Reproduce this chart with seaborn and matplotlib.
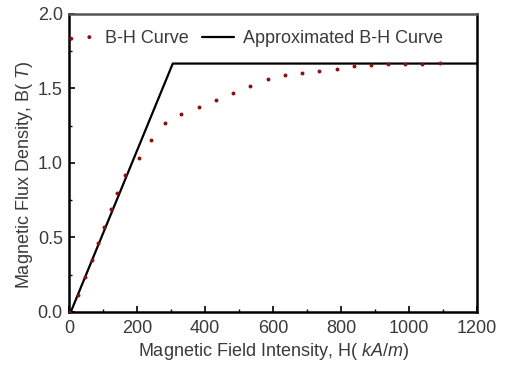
import matplotlib
matplotlib.use("Agg")
import matplotlib.pyplot as plt
import seaborn as sns
import pandas as pd
from matplotlib.ticker import MultipleLocator
from matplotlib.legend_handler import HandlerPathCollection
from matplotlib.collections import PathCollection

sns.set_theme(style="white")
plt.rcParams['font.family'] = ['Liberation Sans', 'DejaVu Sans']
plt.rcParams['mathtext.fontset'] = 'custom'
plt.rcParams['mathtext.it'] = 'Liberation Sans:italic'
plt.rcParams['mathtext.rm'] = 'Liberation Sans'

# B-H curve measured points
h_points = [0, 27, 47, 67, 85, 104, 124, 142, 165, 205, 242, 283, 329, 382, 432,
            483, 533, 584, 635, 685, 736, 787, 837, 888, 938, 989, 1039, 1090]
b_points = [0.0, 0.114, 0.235, 0.35, 0.46, 0.57, 0.69, 0.80, 0.92, 1.03, 1.152,
            1.266, 1.33, 1.378, 1.423, 1.468, 1.519, 1.562, 1.59, 1.606, 1.62,
            1.633, 1.649, 1.656, 1.662, 1.664, 1.665, 1.67]

# Approximated (piecewise-linear) B-H curve
h_approx = [5, 305, 1200]
b_approx = [0.0, 1.667, 1.667]

df_pts = pd.DataFrame({"H": h_points, "B": b_points})
df_apx = pd.DataFrame({"H": h_approx, "B": b_approx})

fig = plt.figure(figsize=(5.08, 3.67), dpi=100)
ax = fig.add_axes([0.136, 0.150, 0.803, 0.812])

text_color = "#3a3a3a"
dot_color = "#8b1010"
fs = 13

sns.lineplot(data=df_apx, x="H", y="B", ax=ax, color="black", linewidth=1.6,
             label="Approximated B-H Curve", sort=False, zorder=2)
sns.scatterplot(data=df_pts, x="H", y="B", ax=ax, color=dot_color, s=8,
                marker="o", linewidth=0, label="B-H Curve", zorder=3)

ax.set_xlim(0, 1200)
ax.set_ylim(0, 2.0)
ax.xaxis.set_major_locator(MultipleLocator(200))
ax.xaxis.set_minor_locator(MultipleLocator(100))
ax.yaxis.set_major_locator(MultipleLocator(0.5))
ax.yaxis.set_minor_locator(MultipleLocator(0.25))
ax.yaxis.set_major_formatter(matplotlib.ticker.FormatStrFormatter('%.1f'))

ax.tick_params(which='major', direction='in', length=4, width=1.2,
               labelsize=fs, labelcolor=text_color, color='black', pad=4.5,
               bottom=True, left=True)
ax.tick_params(axis='x', which='major', pad=5.5)
ax.tick_params(which='minor', direction='in', length=2.5, width=1.0,
               color='black', bottom=True, left=True)

for side, sp in ax.spines.items():
    sp.set_visible(True)
    sp.set_linewidth(1.8)
    sp.set_color('black')
ax.spines['top'].set_color('#555555')

ax.set_xlabel(r"Magnetic Field Intensity, H( $\mathit{kA/m}$)", fontsize=fs,
              color=text_color, labelpad=3)
ax.set_ylabel(r"Magnetic Flux Density, B( $\mathit{T}$)", fontsize=fs,
              color=text_color)
ax.yaxis.set_label_coords(-0.084, 0.46)

handles, labels = ax.get_legend_handles_labels()
order = [labels.index("B-H Curve"), labels.index("Approximated B-H Curve")]
leg = ax.legend([handles[i] for i in order], [labels[i] for i in order],
                loc='center left', bbox_to_anchor=(-0.03, 0.916), ncol=2,
                frameon=False, fontsize=fs, scatterpoints=2,
                handlelength=1.8, handletextpad=0.45, columnspacing=0.75,
                borderaxespad=0,
                handler_map={PathCollection: HandlerPathCollection(marker_pad=0.4)})
for t in leg.get_texts():
    t.set_color(text_color)

fig.savefig("out.png", dpi=100)
